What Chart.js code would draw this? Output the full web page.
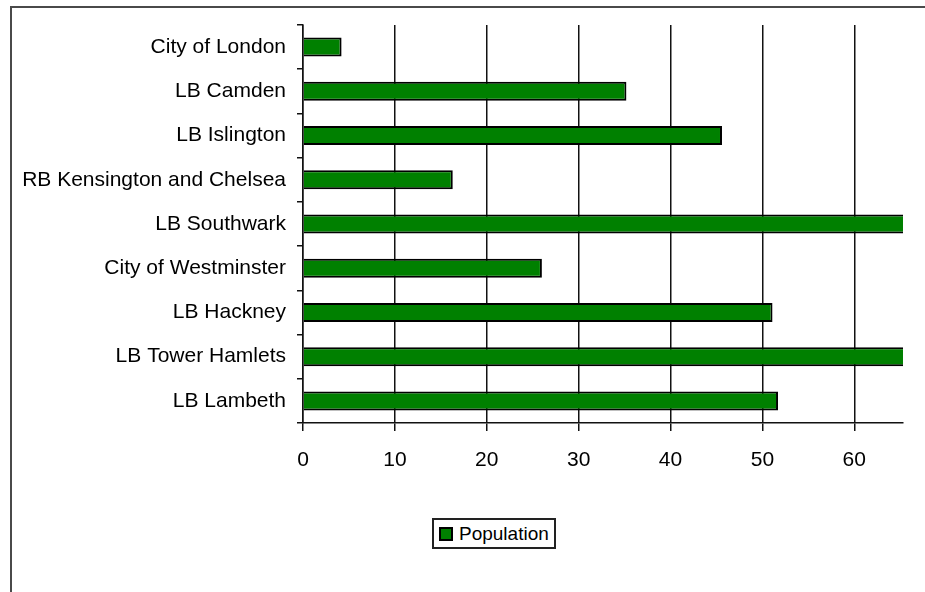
<!DOCTYPE html>
<html>
<head>
<meta charset="utf-8">
<script src="https://cdn.jsdelivr.net/npm/chart.js@4/dist/chart.umd.min.js"></script>
<style>
  html, body { margin: 0; padding: 0; background: #fff; overflow: hidden; }
  #wrap { position: relative; width: 925px; height: 592px; }
  #frame { position: absolute; left: 10px; top: 6px; width: 1000px; height: 1000px; border: 2px solid #4a4a4a; box-sizing: border-box; pointer-events: none; }
  canvas { position: absolute; left: 0; top: 0; }
  #legend { position: absolute; left: 432px; top: 518px; width: 124px; height: 31px; box-sizing: border-box; border: 2px solid #222; background: #fff;
            font-family: "Liberation Sans", Arial, sans-serif; font-size: 19px; color: #000; display: flex; align-items: center; padding-left: 5px; }
  #legend .sw { width: 14px; height: 14px; box-sizing: border-box; border: 2px solid #000; margin-right: 6px; }
</style>
</head>
<body>
<div id="wrap">
  <canvas id="c" width="925" height="592"></canvas>
  <div id="frame"></div>
  <div id="legend"><span class="sw"></span><span id="legtext"></span></div>
</div>
<script>
const categories = [
  "City of London",
  "LB Camden",
  "LB Islington",
  "RB Kensington and Chelsea",
  "LB Southwark",
  "City of Westminster",
  "LB Hackney",
  "LB Tower Hamlets",
  "LB Lambeth"
];
const seriesName = "Population";
const populationValues = [4.2, 35.2, 45.6, 16.3, 68, 26.0, 51.1, 68, 51.7];
const xTickMin = 0;
const xTickMax = 65.3;
const xTickStep = 10;

const barColor = "#008000";
const fontFamily = "'Liberation Sans', Arial, sans-serif";

document.getElementById('legtext').textContent = seriesName;
document.querySelector('#legend .sw').style.background = barColor;

new Chart(document.getElementById('c'), {
  type: 'bar',
  data: {
    labels: categories,
    datasets: [{
      label: seriesName,
      data: populationValues,
      backgroundColor: barColor,
      borderColor: '#000',
      borderWidth: 2,
      borderSkipped: 'start',
      barPercentage: 0.43,
      categoryPercentage: 1.0,
      clip: 0
    }]
  },
  options: {
    indexAxis: 'y',
    responsive: false,
    animation: false,
    layout: { padding: { left: 0, right: 22, top: 25, bottom: 0 } },
    plugins: { legend: { display: false }, tooltip: { enabled: false } },
    scales: {
      x: {
        min: xTickMin,
        max: xTickMax,
        ticks: { stepSize: xTickStep, includeBounds: false, color: '#000', padding: 17,
                 font: { family: fontFamily, size: 21 } },
        grid: { color: '#111', lineWidth: 1.5, tickLength: 8, drawOnChartArea: true },
        border: { display: true, color: '#111', width: 1.5 },
        afterFit: (s) => { s.height = 169; }
      },
      y: {
        ticks: { color: '#000', padding: 11, font: { family: fontFamily, size: 21 } },
        grid: { drawOnChartArea: false, drawTicks: true, tickLength: 6, color: '#111', lineWidth: 1.5, offset: true },
        border: { display: true, color: '#111', width: 1.5 },
        afterFit: (s) => { s.width = 303; }
      }
    }
  }
});
</script>
</body>
</html>
